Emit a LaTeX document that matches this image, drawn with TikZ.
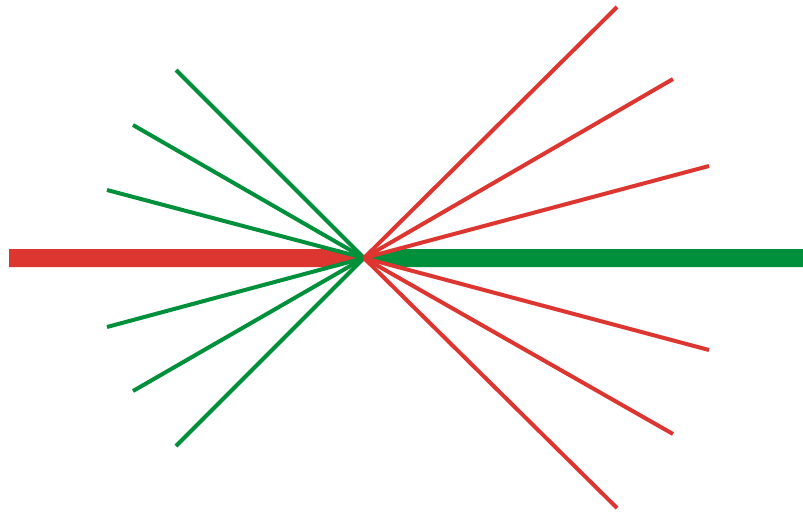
\documentclass[tikz,border=0pt]{standalone}
\definecolor{myred}{HTML}{DD3530}
\definecolor{mygreen}{HTML}{00903C}
\begin{document}
\begin{tikzpicture}[x=1pt,y=-1pt,
  thin red/.style={draw=myred,line width=4pt},
  thin green/.style={draw=mygreen,line width=4pt}]
\useasboundingbox (0,0) rectangle (803,512);
\coordinate (c) at (364,258);
% thick bars
\fill[myred] (9,249) -- (338,249) -- (c) -- (338,267) -- (9,267) -- cycle;
\fill[mygreen] (366,258) -- (394,249) -- (803,249) -- (803,267) -- (394,267) -- cycle;
% green rays
\foreach \p in {(176,70),(133,125),(107,190),(107,327),(133,391),(176,446)}
  \draw[thin green] (c) -- \p;
% red rays
\foreach \p in {(617,7),(673,79),(709,166),(709,350),(673,434),(617,508)}
  \draw[thin red] (c) -- \p;
\end{tikzpicture}
\end{document}
